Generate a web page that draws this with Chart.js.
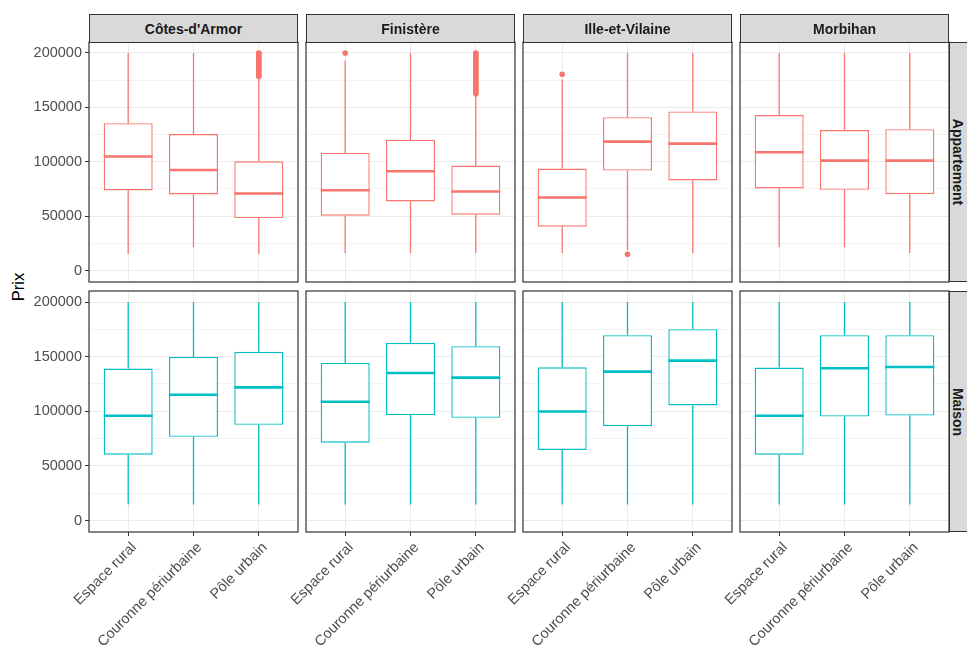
<!DOCTYPE html>
<html>
<head>
<meta charset="utf-8">
<title>Prix par type de commune</title>
<script src="https://cdn.jsdelivr.net/npm/chart.js@4.4.1/dist/chart.umd.min.js"></script>
<style>
  body { margin: 0; background: #fff; font-family: "Liberation Sans", Arial, sans-serif; }
  #wrap { position: relative; width: 967px; height: 645px; overflow: hidden; }
  #wrap canvas { position: absolute; }
  .strip { position: absolute; box-sizing: border-box; background: #d9d9d9; border: 1.2px solid #333;
           font-weight: bold; font-size: 14px; color: #1a1a1a; display: flex; align-items: center; justify-content: center; }
  .strip span.rot { position: absolute; left: 8px; top: 50%; transform: translate(-50%, -50%) rotate(90deg); white-space: nowrap; }
  #ytitle { position: absolute; left: 18px; top: 287px; transform: translate(-50%, -50%) rotate(-90deg);
            font-size: 16.5px; color: #000; white-space: nowrap; }
</style>
</head>
<body>
<div id="wrap">
  <div id="ytitle">Prix</div>
</div>
<script>
const departements = ["Côtes-d'Armor", 'Finistère', 'Ille-et-Vilaine', 'Morbihan'];
const typesLogement = ['Appartement', 'Maison'];
const categories = ['Espace rural', 'Couronne périurbaine', 'Pôle urbain'];
const yTicks = [0, 50000, 100000, 150000, 200000];
const yMinorTicks = [25000, 75000, 125000, 175000];

// Appartement : une ligne par département, une valeur par catégorie
const appartLow = [[15300, 21400, 15300], [16200, 16200, 16200], [16200, 19000, 16200], [21400, 21400, 16200]];
const appartQ1 = [[73600, 70000, 48300], [50400, 63600, 51300], [40300, 91900, 82800], [75500, 74200, 70200]];
const appartMedian = [[104800, 92500, 70900], [73900, 91300, 72700], [67200, 118500, 116700], [108700, 101100, 101100]];
const appartQ3 = [[135500, 125500, 100500], [108100, 120300, 96500], [93800, 141000, 146300], [142900, 129100, 130000]];
const appartHigh = [[200000, 200000, 177000], [193000, 200000, 162000], [175600, 200000, 200000], [200000, 200000, 200000]];
const appartOutliers = [
  [[], [], [178500, 179500, 181000, 182500, 184000, 185000, 186500, 188000, 189000, 190500, 192000, 193000, 194500, 196000, 197000, 198500, 199500, 200000]],
  [[200000], [], [162500, 164000, 165000, 166500, 168000, 169500, 171000, 172500, 174000, 175500, 177000, 178500, 180000, 181500, 183000, 184500, 186000, 187500, 189000, 190500, 192000, 193500, 195000, 196500, 198000, 199500, 200000]],
  [[180400], [15000], []],
  [[], [], []]
];

// Maison
const maisonLow = [[14700, 14700, 14700], [14700, 14700, 14700], [14700, 14700, 14700], [14700, 14700, 14700]];
const maisonQ1 = [[60300, 76600, 87600], [71300, 96500, 94000], [64600, 86400, 105300], [60300, 95200, 96100]];
const maisonMedian = [[95900, 115200, 121900], [108700, 135100, 130800], [99800, 136300, 146400], [95900, 139400, 140600]];
const maisonQ3 = [[139100, 149800, 154400], [144300, 162700, 159600], [140300, 169700, 175200], [140000, 169700, 169700]];
const maisonHigh = [[200000, 200000, 200000], [200000, 200000, 200000], [200000, 200000, 200000], [200000, 200000, 200000]];
const maisonOutliers = [[[], [], []], [[], [], []], [[], [], []], [[], [], []]];

const stats = [
  { low: appartLow, q1: appartQ1, med: appartMedian, q3: appartQ3, high: appartHigh, out: appartOutliers },
  { low: maisonLow, q1: maisonQ1, med: maisonMedian, q3: maisonQ3, high: maisonHigh, out: maisonOutliers }
];
const colours = ['#F8766D', '#00BFC4'];

// layout of the facet grid
const panelLeft = [89, 306, 523, 740];
const panelTop = [42, 291];
const panelW = 209;
const panelH = [240, 241];
const stripTop = 14;
const yAxisW = 89, xAxisH = 113, pad = 4;
const boxHalf = 0.375;

Chart.defaults.font.family = '"Liberation Sans", Arial, sans-serif';

const panelBorder = {
  id: 'panelBorder',
  afterDatasetsDraw(chart) {
    const { ctx, chartArea: a } = chart;
    ctx.save();
    ctx.strokeStyle = '#333';
    ctx.lineWidth = 1.2;
    ctx.strokeRect(a.left, a.top, a.right - a.left, a.bottom - a.top);
    ctx.restore();
  }
};

function buildDatasets(s, d, colour) {
  const whiskers = [], medians = [], boxes = [], points = [];
  categories.forEach((cat, i) => {
    const x = i + 1;
    boxes.push({ x, y: [s.q1[d][i], s.q3[d][i]] });
    whiskers.push({ x, y: s.low[d][i] }, { x, y: s.q1[d][i] }, { x, y: null },
                  { x, y: s.q3[d][i] }, { x, y: s.high[d][i] }, { x, y: null });
    medians.push({ x: x - boxHalf, y: s.med[d][i] }, { x: x + boxHalf, y: s.med[d][i] }, { x, y: null });
    s.out[d][i].forEach(v => points.push({ x, y: v }));
  });
  return [
    { type: 'line', data: whiskers, borderColor: colour, borderWidth: 1.3, pointRadius: 0, spanGaps: false, order: 3 },
    { type: 'bar', data: boxes, backgroundColor: '#fff', borderColor: colour, borderWidth: 1.4, borderSkipped: false,
      grouped: false, categoryPercentage: 1, barPercentage: 0.75, order: 2 },
    { type: 'line', data: medians, borderColor: colour, borderWidth: 2.6, pointRadius: 0, spanGaps: false, order: 1 },
    { type: 'scatter', data: points, backgroundColor: colour, borderWidth: 0, pointRadius: 2.8, order: 0 }
  ];
}

const wrap = document.getElementById('wrap');

typesLogement.forEach((type, r) => {
  departements.forEach((dep, c) => {
    const canvas = document.createElement('canvas');
    const w = yAxisW + panelW + pad;
    const h = pad + panelH[r] + (r === 1 ? xAxisH : pad);
    canvas.width = w;
    canvas.height = h;
    canvas.style.width = w + 'px';
    canvas.style.height = h + 'px';
    canvas.style.left = (panelLeft[c] - yAxisW) + 'px';
    canvas.style.top = (panelTop[r] - pad) + 'px';
    wrap.appendChild(canvas);

    new Chart(canvas.getContext('2d'), {
      type: 'bar',
      data: { datasets: buildDatasets(stats[r], c, colours[r]) },
      options: {
        responsive: false,
        animation: false,
        events: [],
        layout: { padding: { left: 0, top: pad, right: pad, bottom: r === 1 ? 0 : pad } },
        plugins: { legend: { display: false }, tooltip: { enabled: false } },
        scales: {
          x: {
            type: 'linear', min: 0.4, max: 3.6, offset: false,
            afterBuildTicks: s => { s.ticks = categories.map((cat, i) => ({ value: i + 1 })); },
            afterFit: s => { s.height = r === 1 ? xAxisH : 0; s.paddingLeft = 0; s.paddingRight = 0; },
            ticks: {
              display: r === 1, autoSkip: false, minRotation: 45, maxRotation: 45, padding: 3, labelOffset: 6,
              color: '#4d4d4d', font: { size: 14.5 },
              callback: v => categories[v - 1]
            },
            grid: { offset: false, color: '#ebebeb', lineWidth: 1, drawTicks: r === 1, tickLength: 4, tickColor: '#333' },
            border: { display: false }
          },
          y: {
            min: -10500, max: 210100,
            afterBuildTicks: s => {
              s.ticks = yTicks.concat(yMinorTicks).sort((a, b) => a - b).map(v => ({ value: v }));
            },
            afterFit: s => { s.width = yAxisW; s.paddingTop = 0; s.paddingBottom = 0; },
            ticks: {
              display: c === 0, padding: 3, color: '#4d4d4d', font: { size: 14.5 },
              callback: v => yTicks.includes(v) ? String(v) : ''
            },
            grid: {
              color: '#ebebeb',
              lineWidth: ctx => yTicks.includes(ctx.tick.value) ? 1 : 0.6,
              drawTicks: c === 0, tickLength: 4,
              tickColor: ctx => yTicks.includes(ctx.tick.value) ? '#333' : 'rgba(0,0,0,0)'
            },
            border: { display: false }
          }
        }
      },
      plugins: [panelBorder]
    });
  });
});

// strips (facet labels)
departements.forEach((dep, c) => {
  const el = document.createElement('div');
  el.className = 'strip';
  el.style.left = panelLeft[c] + 'px';
  el.style.top = stripTop + 'px';
  el.style.width = panelW + 'px';
  el.style.height = (panelTop[0] - stripTop + 1) + 'px';
  el.textContent = dep;
  wrap.appendChild(el);
});
typesLogement.forEach((type, r) => {
  const el = document.createElement('div');
  el.className = 'strip';
  el.style.left = (panelLeft[3] + panelW) + 'px';
  el.style.top = panelTop[r] + 'px';
  el.style.width = '28px';
  el.style.height = panelH[r] + 'px';
  const txt = document.createElement('span');
  txt.className = 'rot';
  txt.textContent = type;
  el.appendChild(txt);
  wrap.appendChild(el);
});
</script>
</body>
</html>
